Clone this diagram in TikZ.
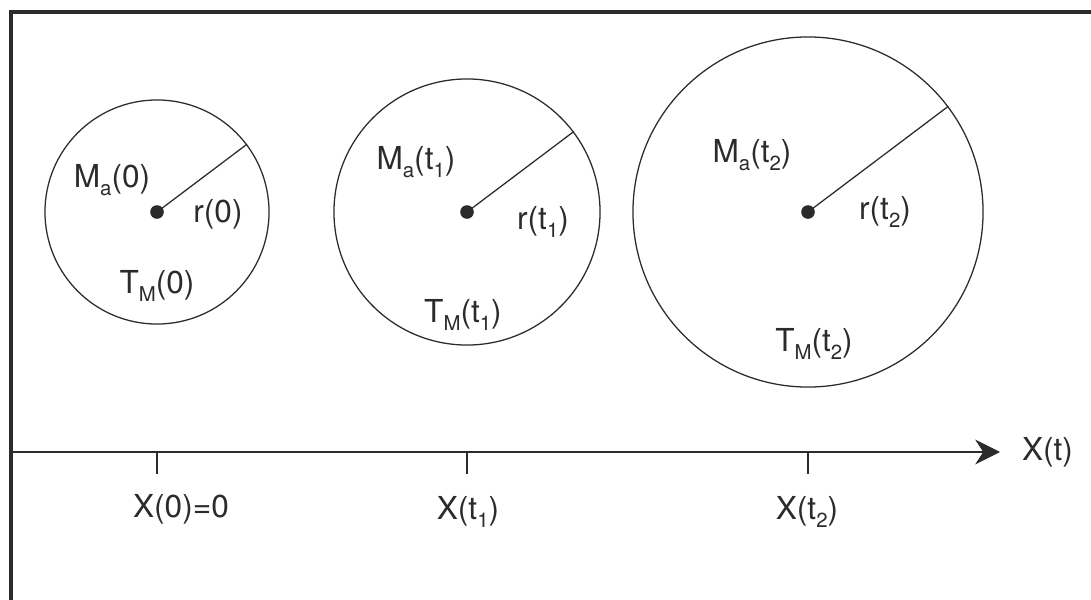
\documentclass[tikz,border=0pt]{standalone}
\usepackage{fontspec}
\setmainfont{TeX Gyre Heros}
\usetikzlibrary{arrows.meta,positioning}
\definecolor{FigInk}{HTML}{2B2B2B}
\newcommand{\lowsub}[1]{\raisebox{-0.5ex}{\fontsize{14.5}{16}\selectfont #1}}

\begin{document}
\begin{tikzpicture}[x=0.025cm,y=-0.025cm,line width=0.9pt,draw=FigInk,text=FigInk]
    \tikzset{ball/.style={circle,draw=FigInk,line width=0.9pt,inner sep=0pt},
      dot/.style={circle,fill=FigInk,inner sep=0pt,minimum size=0.34cm},
      lab/.style={font=\fontsize{22.5}{26}\selectfont,inner sep=1pt}}
    \clip (0,0) rectangle (1091,599);
    \fill[white] (0,0) rectangle (1091,599);
    \draw[line width=2.2pt] (11,620) -- (11,12) -- (1110,12);
    % three growing spheres
    \node[ball,minimum size=5.6cm] (c0) at (157,212) {};
    \node[ball,minimum size=6.65cm] (c1) at (467,212) {};
    \node[ball,minimum size=8.75cm] (c2) at (808,212) {};
    \node[dot] (d0) at (c0.center) {};
    \node[dot] (d1) at (c1.center) {};
    \node[dot] (d2) at (c2.center) {};
    \draw (d0.center) -- (c0.37);
    \draw (d1.center) -- (c1.37);
    \draw (d2.center) -- (c2.37);
    \node[lab] (m0) at (112,180) {M\lowsub{a}(0)};
    \node[lab] (r0) at (218,214) {r(0)};
    \node[lab] (t0) at (157,286) {T\lowsub{M}(0)};
    \node[lab] (m1) at (416,162) {M\lowsub{a}(t\lowsub{1})};
    \node[lab] (r1) at (543,222) {r(t\lowsub{1})};
    \node[lab] (t1) at (463,315) {T\lowsub{M}(t\lowsub{1})};
    \node[lab] (m2) at (752,155) {M\lowsub{a}(t\lowsub{2})};
    \node[lab] (r2) at (885,212) {r(t\lowsub{2})};
    \node[lab] (t2) at (814,344) {T\lowsub{M}(t\lowsub{2})};
    % position axis
    \coordinate (ax0) at (11,452);
    \coordinate (ax1) at (1000,452);
    \draw[-{Stealth[length=0.62cm,width=0.62cm,inset=0.2cm]}] (ax0) -- (ax1);
    \node[lab,right=0.5cm of ax1] (xt) {X(t)};
    \draw (c0 |- ax0) -- ++(0,22);
    \draw (c1 |- ax0) -- ++(0,22);
    \draw (c2 |- ax0) -- ++(0,22);
    \node[lab] (x0) at (181,509) {X(0)=0};
    \node[lab] (x1) at (468,512) {X(t\lowsub{1})};
    \node[lab] (x2) at (807,512) {X(t\lowsub{2})};
  \end{tikzpicture}
\end{document}
